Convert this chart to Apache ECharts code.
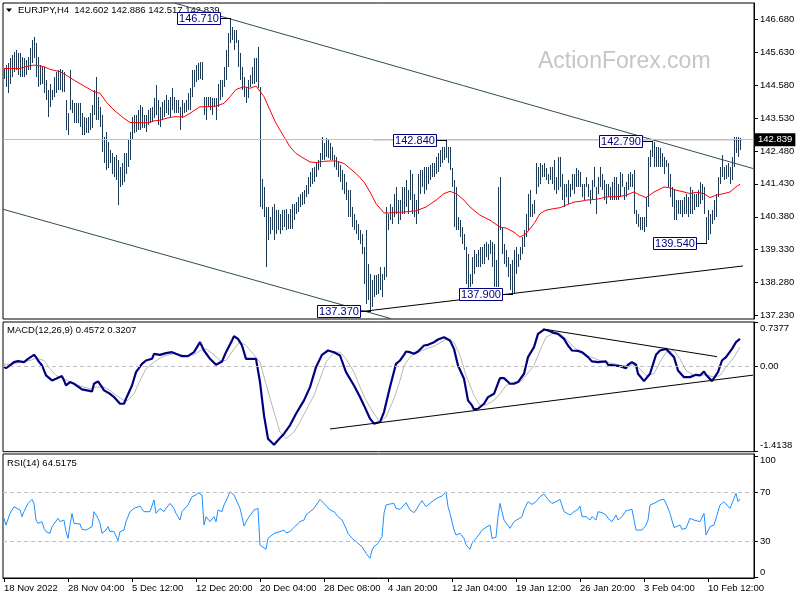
<!DOCTYPE html>
<html><head><meta charset="utf-8">
<script src="https://cdn.jsdelivr.net/npm/echarts@6/dist/echarts.min.js"></script>
<style>html,body{margin:0;padding:0;background:#fff}#c{width:800px;height:600px}</style>
</head><body><div id="c"></div>
<script>
// ---------- DATA ----------
const symbolName = 'EURJPY,H4';
const lastOHLC = [142.602, 142.886, 142.517, 142.839];
const highs = [
145.11,145.22,145.27,145.43,145.54,145.65,145.70,145.59,145.59,145.49,145.43,145.38,145.49,145.75,146.02,146.13,145.91,145.49,145.22,145.17,
145.17,144.74,144.42,144.63,144.42,144.85,145.01,145.06,145.11,145.06,145.01,144.10,143.68,145.06,144.10,144.00,144.00,144.00,144.00,143.68,
143.57,143.52,143.57,143.68,143.94,144.42,144.85,144.21,143.89,143.62,142.93,143.09,142.77,142.50,142.40,142.29,142.34,142.18,141.97,142.08,
142.40,142.40,142.82,143.09,143.57,143.62,143.62,143.78,143.94,143.89,143.62,143.62,143.78,143.84,143.89,144.16,144.58,144.10,143.89,144.05,
144.10,144.26,144.10,144.21,144.48,144.21,144.10,144.10,143.89,144.10,144.00,144.10,144.32,144.48,145.06,145.06,145.22,145.27,145.33,145.33,
144.21,144.21,144.21,144.21,144.16,144.16,144.16,144.63,144.74,144.74,145.17,145.70,146.23,146.71,146.45,146.34,146.34,146.02,145.59,145.17,
144.85,144.53,144.74,144.90,145.17,145.43,145.43,145.81,144.53,141.60,141.33,140.69,140.69,140.37,140.69,140.80,140.59,140.59,140.48,140.59,
140.59,140.64,140.48,140.64,140.80,140.80,140.85,141.01,141.12,141.17,141.23,141.38,141.65,141.81,141.92,141.97,142.08,142.18,142.40,142.93,
142.72,142.88,142.82,142.72,142.61,142.34,142.29,142.13,142.02,141.86,141.76,141.49,141.23,141.23,140.69,140.48,140.27,140.16,139.95,139.84,
139.41,139.95,138.88,138.56,138.35,138.51,138.51,138.56,138.78,138.56,138.78,140.69,140.48,140.80,140.69,141.12,141.33,140.91,140.91,141.33,
141.33,141.55,141.23,141.86,141.76,141.12,140.91,141.76,141.86,141.86,141.97,141.97,141.97,142.02,142.08,142.08,142.29,142.40,142.50,142.61,
142.61,142.84,142.61,142.61,141.92,141.55,141.33,140.37,140.27,140.05,139.84,139.41,139.20,138.56,139.09,139.31,139.20,139.31,139.41,139.41,
139.52,139.57,139.52,139.63,139.57,139.52,138.99,141.33,141.65,140.05,139.52,139.31,139.09,138.88,138.99,139.31,139.41,139.20,139.41,139.73,
139.95,140.48,141.12,141.23,140.80,140.91,142.08,141.97,142.08,142.02,142.08,141.92,141.76,141.97,141.97,142.18,141.65,142.29,142.29,141.76,
141.44,141.44,141.55,141.44,141.76,141.76,141.92,141.86,141.81,141.44,141.44,141.65,141.44,141.23,141.55,141.97,141.33,141.65,141.97,141.76,
141.55,141.44,141.44,141.33,141.49,141.65,141.65,141.44,141.81,141.76,141.33,141.49,141.76,141.81,141.76,141.86,140.59,140.48,140.37,140.37,
140.37,141.01,142.29,142.50,142.79,142.77,142.61,142.61,142.56,142.40,142.29,142.18,142.08,141.76,141.33,141.23,140.91,140.91,140.91,140.91,
141.01,141.12,141.01,141.33,141.23,141.12,141.12,141.23,141.49,141.44,141.33,140.37,140.59,140.48,140.59,140.91,141.12,141.65,141.97,142.34,
141.97,142.02,142.08,141.97,142.29,142.93,142.93,142.93,142.89];
const lows = [
144.79,144.53,144.32,144.63,144.85,145.01,145.06,144.90,144.85,144.85,144.85,144.90,145.06,145.06,145.27,145.43,144.85,144.53,144.58,144.63,
144.32,144.10,143.57,143.89,144.10,144.21,144.32,144.42,144.42,144.37,144.37,143.14,142.98,143.78,143.68,143.36,143.36,143.36,143.25,142.98,
142.98,143.04,143.04,143.14,143.20,143.62,143.46,143.46,143.25,142.45,142.08,141.86,141.92,142.08,141.76,141.65,141.55,140.75,141.33,141.38,
141.49,141.76,141.97,142.18,142.82,143.04,143.09,143.14,143.14,143.20,143.20,143.09,143.30,143.36,143.41,143.52,143.62,143.30,143.25,143.46,
143.57,143.68,143.62,143.57,143.78,143.68,143.68,143.68,143.14,143.52,143.68,143.73,143.78,143.78,144.21,144.53,144.69,144.74,144.79,144.74,
143.62,143.46,143.89,143.78,143.62,143.89,143.46,143.89,144.10,144.21,144.53,144.74,145.17,145.91,146.02,145.70,145.91,145.17,144.74,144.42,
144.21,144.00,144.16,144.53,144.63,144.63,144.69,144.48,140.69,140.64,140.37,138.78,139.63,139.84,139.95,139.63,139.84,139.95,139.84,139.95,
140.05,139.95,140.00,140.00,140.00,140.27,140.48,140.53,140.69,140.75,140.80,141.01,141.12,141.33,141.44,141.49,141.65,141.86,141.97,142.18,
142.18,142.29,142.24,142.18,142.18,141.97,141.86,141.65,141.49,141.23,141.12,140.91,140.37,140.37,140.05,139.95,139.84,139.63,139.52,139.20,
138.24,137.60,137.71,137.37,137.50,137.82,137.87,137.92,138.03,137.82,138.35,138.46,139.95,140.27,140.16,140.37,140.48,140.16,140.27,140.48,
140.48,140.69,140.48,140.91,140.48,140.37,140.16,140.48,141.12,141.33,141.12,141.23,141.44,141.55,141.65,141.65,141.76,141.81,141.97,142.08,
142.18,142.24,142.08,141.86,141.33,140.05,139.95,139.95,139.73,139.52,139.31,138.24,138.12,138.14,138.24,138.56,138.78,138.78,138.78,138.88,
138.88,139.09,138.99,139.20,138.78,138.14,138.14,138.14,139.95,139.20,138.88,138.78,138.46,138.03,137.90,137.92,138.56,138.78,138.99,139.20,
139.41,139.73,139.95,140.37,140.37,140.48,141.12,141.33,141.44,141.65,141.65,141.55,141.44,141.55,141.44,141.23,141.12,141.23,141.33,140.91,
140.69,141.01,140.80,141.01,141.23,141.12,141.33,141.33,141.33,141.01,140.91,141.33,141.01,140.80,140.91,141.33,140.48,141.12,141.33,141.23,
140.91,140.80,141.01,140.91,140.91,140.91,140.91,140.91,141.01,141.33,140.91,141.01,141.23,141.33,141.33,140.48,140.16,140.05,139.95,139.95,
139.89,140.05,140.69,141.97,142.29,141.97,141.97,141.97,141.97,141.97,141.76,141.97,141.33,141.01,140.69,140.27,140.27,140.48,140.48,140.37,
140.48,140.48,140.37,140.48,140.48,140.59,140.69,140.69,140.80,140.91,140.48,139.54,139.63,139.84,140.16,140.27,140.37,141.01,141.44,141.65,
141.55,141.60,141.65,141.44,141.55,141.97,142.40,142.29,142.52];
// moving average [bar, value]
const maPoints = [[0,145.11],[3,145.11],[8,145.11],[11,145.17],[15,145.22],[16,145.24],[20,145.17],[23,145.08],[28,145.01],[31,144.90],[35,144.74],[40,144.55],[45,144.37],[48,144.32],[51,144.05],[55,143.78],[60,143.52],[63,143.39],[68,143.38],[72,143.38],[75,143.44],[78,143.46],[81,143.52],[85,143.57],[90,143.57],[93,143.68],[98,143.89],[101,143.89],[106,143.91],[110,144.00],[113,144.21],[116,144.44],[120,144.53],[123,144.48],[126,144.55],[130,144.21],[133,143.78],[136,143.36],[140,142.93],[143,142.61],[146,142.40],[150,142.24],[153,142.13],[156,142.11],[160,142.15],[163,142.16],[166,142.16],[170,142.08],[173,141.92],[176,141.76],[180,141.49],[183,141.17],[186,140.80],[190,140.50],[193,140.50],[196,140.53],[198,140.52],[203,140.55],[206,140.57],[211,140.69],[216,140.91],[220,141.12],[223,141.19],[226,141.12],[230,140.91],[233,140.69],[238,140.43],[243,140.27],[248,140.05],[251,140.02],[255,139.89],[258,139.73],[261,139.84],[265,140.16],[268,140.48],[271,140.59],[275,140.64],[278,140.67],[281,140.75],[285,140.85],[288,140.87],[291,140.91],[295,140.93],[298,140.96],[301,141.01],[308,141.03],[311,141.07],[315,141.17],[318,141.07],[321,140.99],[325,141.17],[330,141.33],[333,141.30],[336,141.23],[340,141.17],[343,141.12],[346,141.16],[350,141.12],[353,140.99],[356,141.07],[360,141.12],[363,141.17],[366,141.33],[368,141.42]];
const macdPoints = [[0,0.006],[1,-0.028],[3,0.017],[5,0.072],[7,0.088],[10,0.072],[12,0.127],[15,0.193],[16,0.155],[17,0.099],[19,0.017],[21,-0.149],[24,-0.232],[26,-0.204],[29,-0.160],[30,-0.232],[31,-0.315],[33,-0.259],[35,-0.287],[36,-0.315],[39,-0.381],[40,-0.414],[44,-0.414],[45,-0.287],[47,-0.248],[49,-0.342],[50,-0.397],[53,-0.453],[55,-0.508],[58,-0.618],[60,-0.618],[61,-0.535],[64,-0.315],[66,-0.094],[69,0.044],[71,0.099],[74,0.127],[75,0.210],[78,0.193],[81,0.221],[84,0.237],[86,0.210],[89,0.171],[92,0.171],[95,0.237],[98,0.403],[100,0.265],[103,0.127],[106,0.028],[109,0.083],[111,0.237],[114,0.430],[115,0.502],[117,0.458],[119,0.348],[121,0.127],[124,0.127],[126,0.127],[128,-0.259],[130,-0.811],[132,-1.198],[135,-1.297],[137,-1.225],[140,-1.115],[143,-0.977],[146,-0.784],[150,-0.563],[153,-0.342],[156,-0.011],[159,0.193],[162,0.265],[165,0.237],[168,0.182],[171,-0.094],[175,-0.315],[178,-0.508],[180,-0.646],[183,-0.866],[185,-0.949],[188,-0.922],[190,-0.756],[193,-0.342],[196,0.044],[198,0.099],[200,0.193],[201,0.248],[203,0.237],[205,0.210],[207,0.248],[210,0.348],[212,0.359],[215,0.403],[217,0.447],[220,0.486],[221,0.513],[223,0.430],[225,0.292],[227,0.017],[230,-0.204],[232,-0.563],[234,-0.646],[235,-0.712],[237,-0.701],[240,-0.618],[242,-0.508],[245,-0.453],[246,-0.480],[248,-0.193],[250,-0.193],[251,-0.204],[253,-0.287],[255,-0.287],[257,-0.259],[260,-0.121],[262,0.155],[265,0.320],[267,0.541],[270,0.613],[272,0.596],[275,0.557],[277,0.541],[280,0.458],[282,0.348],[284,0.265],[287,0.259],[289,0.237],[292,0.155],[294,0.083],[297,0.072],[298,0.099],[301,0.083],[302,0.028],[305,0.017],[308,0.006],[311,-0.028],[312,0.028],[314,0.072],[316,0.028],[317,-0.121],[320,-0.243],[321,-0.232],[323,-0.121],[326,0.193],[328,0.265],[331,0.292],[332,0.276],[335,0.155],[337,-0.066],[340,-0.177],[343,-0.177],[346,-0.138],[348,-0.149],[350,-0.083],[351,-0.138],[354,-0.243],[355,-0.232],[357,-0.094],[359,0.099],[361,0.155],[364,0.292],[366,0.403],[368,0.457]];
const signalPoints = [[0,0.044],[3,0.028],[8,0.072],[13,0.099],[16,0.138],[20,0.099],[23,-0.039],[26,-0.149],[30,-0.204],[33,-0.259],[36,-0.304],[40,-0.342],[43,-0.370],[46,-0.342],[50,-0.342],[53,-0.397],[56,-0.480],[60,-0.563],[62,-0.563],[65,-0.453],[68,-0.232],[71,-0.039],[75,0.072],[78,0.138],[81,0.182],[85,0.210],[88,0.193],[91,0.182],[95,0.193],[98,0.265],[101,0.292],[105,0.193],[108,0.099],[111,0.099],[115,0.292],[118,0.414],[121,0.348],[125,0.193],[128,0.072],[131,-0.287],[135,-0.756],[138,-1.087],[141,-1.198],[145,-1.087],[148,-0.922],[151,-0.728],[155,-0.480],[158,-0.204],[161,0.072],[165,0.237],[168,0.237],[171,0.127],[175,-0.094],[178,-0.342],[181,-0.563],[185,-0.784],[188,-0.922],[191,-0.839],[195,-0.535],[198,-0.232],[200,0.017],[203,0.155],[205,0.210],[208,0.248],[211,0.292],[215,0.337],[218,0.392],[221,0.447],[225,0.403],[228,0.182],[231,-0.149],[235,-0.480],[238,-0.646],[241,-0.635],[245,-0.563],[248,-0.453],[251,-0.315],[255,-0.259],[258,-0.259],[261,-0.149],[265,0.017],[268,0.265],[271,0.486],[275,0.557],[278,0.541],[281,0.458],[285,0.320],[288,0.237],[291,0.182],[295,0.138],[298,0.099],[301,0.072],[305,0.044],[308,0.017],[311,0.017],[315,0.028],[318,-0.039],[321,-0.149],[325,-0.121],[328,0.072],[331,0.237],[335,0.265],[338,0.127],[341,-0.066],[345,-0.149],[348,-0.149],[351,-0.138],[355,-0.177],[358,-0.149],[361,-0.011],[365,0.155],[368,0.321]];
const rsiPoints = [[0,48.6],[1,43.1],[3,52.7],[5,58.2],[6,59.6],[8,55.5],[9,50.0],[10,54.1],[12,60.9],[14,64.2],[15,60.9],[16,47.2],[17,44.5],[19,45.9],[20,40.4],[21,37.7],[23,36.3],[24,41.8],[25,43.1],[27,48.6],[28,45.9],[30,47.2],[31,37.7],[32,32.2],[33,43.1],[34,52.7],[35,44.5],[36,43.1],[38,44.0],[39,39.6],[41,39.0],[42,40.4],[44,41.8],[45,54.1],[47,48.6],[48,44.5],[49,36.3],[51,39.0],[52,41.8],[53,37.7],[55,37.7],[56,36.3],[57,30.3],[58,37.7],[60,39.0],[61,45.9],[63,54.1],[65,56.8],[66,56.8],[68,58.7],[70,54.1],[71,55.5],[73,54.1],[75,63.7],[76,52.7],[78,56.8],[80,54.1],[81,56.8],[83,60.9],[85,56.8],[86,52.7],[88,47.2],[89,54.1],[90,54.1],[92,59.6],[94,66.4],[96,67.8],[97,69.7],[99,67.8],[100,43.1],[101,50.0],[103,45.9],[105,50.0],[106,45.9],[107,55.5],[109,54.1],[110,59.6],[112,66.4],[113,70.5],[115,67.8],[116,66.4],[118,56.8],[119,50.0],[120,42.3],[122,48.6],[123,50.0],[125,55.5],[126,54.1],[127,56.8],[128,26.7],[129,25.3],[131,23.2],[132,32.2],[133,30.8],[135,36.3],[136,36.3],[138,37.7],[140,39.0],[141,36.8],[143,37.7],[145,41.2],[146,41.8],[148,45.9],[150,47.2],[151,51.4],[153,54.1],[155,56.8],[156,58.2],[158,64.2],[160,60.9],[161,62.3],[163,55.5],[165,54.1],[166,54.9],[167,50.0],[169,47.2],[171,40.4],[172,36.3],[174,32.2],[176,29.5],[177,28.1],[179,25.3],[180,22.6],[181,19.9],[183,15.8],[184,22.6],[185,25.3],[187,28.1],[189,33.6],[190,52.7],[191,59.6],[193,60.4],[195,60.9],[196,56.8],[198,56.0],[200,59.6],[201,61.5],[203,55.5],[205,53.3],[206,55.5],[208,60.9],[209,63.1],[211,58.2],[213,60.9],[215,63.7],[217,65.6],[219,67.0],[221,70.5],[222,58.2],[223,52.7],[225,39.0],[226,34.9],[228,36.3],[230,32.2],[231,26.7],[233,23.2],[234,28.1],[235,29.5],[237,34.1],[239,39.0],[241,41.2],[243,43.1],[244,32.2],[246,33.0],[247,50.0],[248,60.9],[250,47.2],[251,45.9],[253,40.4],[255,45.9],[256,47.2],[259,50.0],[260,55.5],[262,62.3],[264,60.1],[266,62.3],[268,66.4],[270,68.6],[272,64.2],[274,60.9],[276,62.3],[278,64.2],[280,54.1],[281,53.3],[283,51.4],[285,54.1],[287,56.0],[288,58.7],[289,50.0],[291,50.0],[293,47.2],[294,50.0],[296,47.2],[297,54.1],[299,53.3],[301,51.4],[302,48.6],[304,45.9],[306,51.4],[307,47.2],[309,50.0],[311,54.9],[314,56.0],[316,39.0],[317,38.2],[319,39.0],[321,43.1],[322,47.2],[323,59.6],[325,60.9],[326,62.3],[328,63.7],[330,64.2],[331,60.9],[333,52.7],[335,41.0],[336,41.8],[338,43.1],[339,39.6],[341,40.4],[343,48.6],[345,47.2],[346,48.6],[348,45.9],[350,52.7],[351,34.9],[353,41.8],[355,43.1],[356,48.6],[358,59.6],[360,62.3],[361,62.3],[363,56.8],[365,65.0],[366,69.2],[367,62.3],[368,64.5]];
const macdLast = [0.4572, 0.3207];
const rsiLast = 64.5175;
const priceTicks = [137.23,138.28,139.33,140.38,141.43,142.48,143.53,144.58,145.63,146.68];
const macdTicks = [-1.4138, 0, 0.7377];
const rsiTicks = [0, 30, 70, 100];
const rsiLevels = [30, 70];
const dateTickBars = [0,32,64,96,128,160,192,224,256,288,320,352];
const dateTickLabels = ['18 Nov 2022','28 Nov 04:00','5 Dec 12:00','12 Dec 20:00','20 Dec 04:00','28 Dec 08:00','4 Jan 20:00','12 Jan 04:00','19 Jan 12:00','26 Jan 20:00','3 Feb 04:00','10 Feb 12:00'];
// annotated price levels: [bar, price, text]
const priceMarks = [[113,146.71,'146.710'],[183,137.37,'137.370'],[221,142.84,'142.840'],[324,142.79,'142.790'],[254,137.90,'137.900'],[351,139.54,'139.540']];
// trendlines in data units [[bar, value],[bar, value]]
const channelLines = [[[85.2,147.20],[374.5,141.92]], [[-0.5,140.62],[193.5,137.13]]];
const blackLines = [[[178,137.35],[369.5,138.81]], [[184.5,142.84],[369.5,142.84]]];
const macdLines = [[[163,-1.037],[374.5,-0.144]], [[269.5,0.622],[356.5,0.163]]];

// ---------- CHART ----------
const FONT = 'Liberation Sans';
const chart = echarts.init(document.getElementById('c'));
const xBase = {type:'value', min:-0.5, max:375, show:false, axisLine:{onZero:false}};
const rightAxis = (idx, min, max, ticks, fmt, lh) => ({
  type:'value', gridIndex:idx, position:'right', min, max, scale:true,
  axisLine:{show:true, onZero:false, lineStyle:{color:'#000'}},
  splitLine:{show:false},
  axisTick:{show:true, inside:false, length:4, customValues:ticks, lineStyle:{color:'#000'}},
  axisLabel:{show:true, customValues:ticks, formatter:fmt, margin:6, color:'#000',
    fontSize:9.5, fontFamily:FONT, lineHeight:lh||12, hideOverlap:false}
});
const lineSeries = (pts, xi, color, width) => ({
  type:'line', xAxisIndex:xi, yAxisIndex:xi, data:pts, symbol:'none', silent:true,
  lineStyle:{color, width:width||1}, z:4
});

const series = [];
series.push({
  type:'custom', name:'bars', xAxisIndex:0, yAxisIndex:0,
  data: highs.map((h,i)=>[i, lows[i], h]),
  encode:{x:0, y:[1,2]},
  renderItem:(params, api)=>{
    const i = api.value(0);
    const lo = api.coord([i, api.value(1)]);
    const hi = api.coord([i, api.value(2)]);
    const top = Math.round(hi[1]);
    return {type:'rect', shape:{x:Math.floor(lo[0]), y:top, width:1, height:Math.max(1, Math.round(lo[1]) - top)},
      style:{fill:'#1d3b57'}};
  },
  markLine:{silent:true, symbol:['none','none'], animation:false,
    lineStyle:{color:'#c0c0c0', width:1, type:'solid'},
    label:{show:true, position:'end', distance:1, formatter:lastOHLC[3].toFixed(3),
      backgroundColor:'#000', color:'#fff', padding:[2,3,1,3], fontSize:9.5, fontFamily:FONT},
    data:[{yAxis:lastOHLC[3]}]},
  z:2
});
series.push(lineSeries(maPoints, 0, '#ff0000', 1));
channelLines.forEach(p=>series.push(lineSeries(p, 0, '#2f4f4f', 1)));
blackLines.forEach(p=>series.push(lineSeries(p, 0, '#000000', 1)));
series.push({
  type:'custom', name:'marks', xAxisIndex:0, yAxisIndex:0, z:6,
  data: priceMarks.map(m=>[m[0], m[1]]), encode:{x:0, y:1},
  renderItem:(params, api)=>{
    const p = api.coord([api.value(0), api.value(1)]);
    const text = priceMarks[params.dataIndex][2];
    const ax = Math.round(p[0]), cy = Math.round(p[1]);
    const w = 43, right = ax - 10;
    return {type:'group', children:[
      {type:'line', shape:{x1:right, y1:cy+0.5, x2:ax+1, y2:cy+0.5}, style:{stroke:'#000', lineWidth:1}},
      {type:'rect', shape:{x:right - w + 0.5, y:cy - 6 + 0.5, width:w, height:12}, style:{fill:'#fff', stroke:'#000080', lineWidth:1}},
      {type:'text', style:{text, x:right - w/2 + 0.5, y:cy + 1, align:'center', verticalAlign:'middle',
        textAlign:'center', textVerticalAlign:'middle', fill:'#000080', font:'11px "Liberation Sans"'}}
    ]};
  }
});
series.push({
  type:'line', xAxisIndex:1, yAxisIndex:1, data:signalPoints, symbol:'none', silent:true,
  lineStyle:{color:'#b8b8b8', width:1}, z:3,
  markLine:{silent:true, symbol:['none','none'], animation:false, label:{show:false},
    lineStyle:{color:'#c0c0c0', width:1, type:[4,3]}, data:[{yAxis:0}]}
});
series.push({type:'line', xAxisIndex:1, yAxisIndex:1, data:macdPoints, symbol:'none', silent:true,
  lineStyle:{color:'#000080', width:2.2}, z:4});
macdLines.forEach(p=>series.push(lineSeries(p, 1, '#000000', 1)));
series.push({
  type:'line', xAxisIndex:2, yAxisIndex:2, data:rsiPoints, symbol:'none', silent:true,
  lineStyle:{color:'#1e90ff', width:1}, z:4,
  markLine:{silent:true, symbol:['none','none'], animation:false, label:{show:false},
    lineStyle:{color:'#c0c0c0', width:1, type:[4,3]}, data:rsiLevels.map(v=>({yAxis:v}))}
});

const option = {
  animation:false,
  backgroundColor:'#fff',
  textStyle:{fontFamily:FONT},
  grid:[
    {left:3, top:3, width:751, height:316, show:true, borderColor:'#000', borderWidth:1, backgroundColor:'transparent'},
    {left:3, top:322, width:751, height:129.7, show:true, borderColor:'#000', borderWidth:1, backgroundColor:'transparent'},
    {left:3, top:454, width:751, height:124, show:true, borderColor:'#000', borderWidth:1, backgroundColor:'transparent'}
  ],
  xAxis:[
    Object.assign({gridIndex:0}, xBase),
    Object.assign({gridIndex:1}, xBase),
    {type:'value', gridIndex:2, min:-0.5, max:375, position:'bottom',
      axisLine:{show:true, onZero:false, lineStyle:{color:'#000'}}, splitLine:{show:false},
      axisTick:{show:true, inside:false, length:4, customValues:dateTickBars, lineStyle:{color:'#000'}},
      axisLabel:{show:true, customValues:dateTickBars, align:'left', margin:5, color:'#000', fontSize:9.5, fontFamily:FONT, hideOverlap:false,
        formatter:(v)=>{const k = dateTickBars.indexOf(Math.round(v)); return k >= 0 ? dateTickLabels[k] : '';}}}
  ],
  yAxis:[
    rightAxis(0, 137.118, 147.200, priceTicks, v=>v.toFixed(3)),
    rightAxis(1, macdTicks[0], macdTicks[2], macdTicks, v=>{
      if (v === macdTicks[2]) return '\n' + v.toFixed(4);
      if (v === macdTicks[0]) return v.toFixed(4) + '\n';
      return v.toFixed(2);
    }, 13),
    rightAxis(2, -0.4, 101.5, rsiTicks, v=>{
      if (v === 100) return '\n100';
      if (v === 0) return '0\n';
      return String(v);
    }, 10)
  ],
  graphic:[
    {type:'text', z:-10, silent:true, style:{text:'ActionForex.com', x:538, y:62, verticalAlign:'middle', textVerticalAlign:'middle',
      fill:'#c6c6c6', font:'23px "Liberation Sans"'}},
    {type:'polygon', silent:true, shape:{points:[[6,8.5],[12,8.5],[9,12]]}, style:{fill:'#000'}},
    {type:'text', silent:true, style:{text:symbolName + '  ' + lastOHLC.map(v=>v.toFixed(3)).join(' '), x:18, y:10.5,
      verticalAlign:'middle', textVerticalAlign:'middle', fill:'#000', font:'9.5px "Liberation Sans"'}},
    {type:'text', silent:true, style:{text:'MACD(12,26,9) ' + macdLast.map(v=>v.toFixed(4)).join(' '), x:7, y:330.5,
      verticalAlign:'middle', textVerticalAlign:'middle', fill:'#000', font:'9.5px "Liberation Sans"'}},
    {type:'text', silent:true, style:{text:'RSI(14) ' + rsiLast.toFixed(4), x:7, y:463,
      verticalAlign:'middle', textVerticalAlign:'middle', fill:'#000', font:'9.5px "Liberation Sans"'}}
  ],
  series
};
chart.setOption(option);
</script>
</body></html>
